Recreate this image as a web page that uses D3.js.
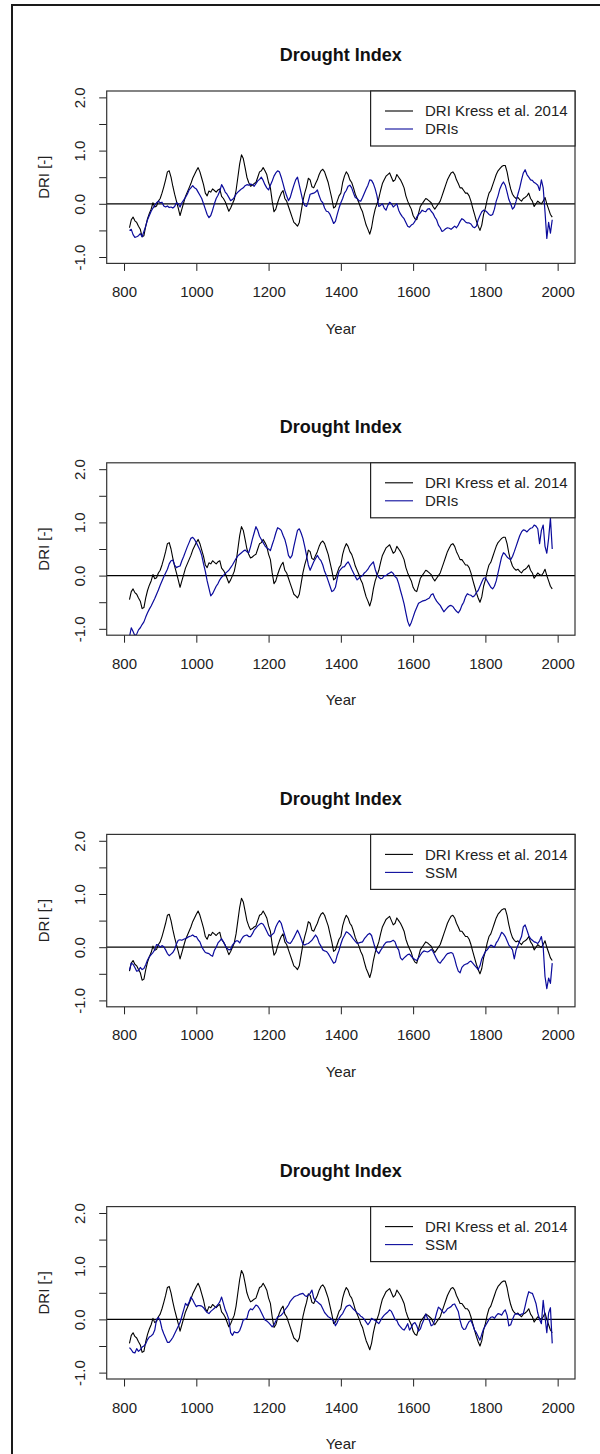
<!DOCTYPE html>
<html>
<head>
<meta charset="utf-8">
<script src="https://cdn.jsdelivr.net/npm/d3@7"></script>
<style>
  html, body { margin: 0; padding: 0; background: #fff; }
  svg { display: block; font-family: "Liberation Sans", Arial, sans-serif; }
</style>
</head>
<body>
<svg id="chart" width="600" height="1454"></svg>
<script>
// ---- data -------------------------------------------------------------
// Annual series sampled every 5 years, 815 .. 1985
const firstYear = 815;
const yearStep = 5;

// DRI reconstruction of Kress et al. 2014 (same reference curve in every panel)
const kressDRI = [
  -0.45,-0.3,-0.25,-0.32,-0.35,-0.42,-0.48,-0.62,-0.6,-0.42, -0.28,-0.18,-0.1,0.02,-0.06,-0.04,0.05,0.1,0.2,0.32,
  0.45,0.6,0.62,0.5,0.33,0.18,0.05,-0.08,-0.22,-0.1, 0.02,0.14,0.22,0.3,0.38,0.48,0.55,0.62,0.68,0.6,
  0.48,0.36,0.2,0.15,0.24,0.22,0.28,0.25,0.22,0.26, 0.28,0.14,0.1,0.04,-0.05,-0.14,-0.08,0.0,0.08,0.25,
  0.5,0.75,0.92,0.85,0.68,0.5,0.4,0.33,0.35,0.38, 0.4,0.5,0.6,0.62,0.68,0.62,0.55,0.4,0.3,0.05,
  -0.15,-0.1,0.02,0.12,0.2,0.25,0.1,0.05,-0.05,-0.15, -0.25,-0.35,-0.38,-0.42,-0.35,-0.15,0.05,0.2,0.32,0.48,
  0.45,0.32,0.3,0.38,0.45,0.55,0.62,0.65,0.6,0.5, 0.4,0.25,0.1,-0.08,-0.05,0.05,0.15,0.2,0.4,0.52,
  0.6,0.55,0.45,0.4,0.3,0.18,0.1,0.02,-0.08,-0.15, -0.28,-0.4,-0.48,-0.57,-0.45,-0.25,-0.1,0.0,0.1,0.25,
  0.38,0.45,0.52,0.55,0.58,0.5,0.42,0.45,0.55,0.5, 0.45,0.38,0.3,0.15,0.05,-0.03,-0.1,-0.22,-0.28,-0.3,
  -0.18,-0.05,0.0,0.05,0.1,0.08,0.05,0.02,-0.05,-0.1, -0.05,0.0,0.05,0.15,0.25,0.35,0.45,0.52,0.58,0.6,
  0.55,0.45,0.38,0.3,0.3,0.25,0.2,0.2,0.15,0.05, -0.08,-0.2,-0.32,-0.42,-0.5,-0.4,-0.2,-0.08,0.08,0.2,
  0.25,0.35,0.45,0.55,0.62,0.66,0.7,0.72,0.72,0.6, 0.42,0.28,0.18,0.13,0.1,0.12,0.08,0.05,0.1,0.12,
  0.15,0.2,0.1,0.05,-0.05,0.0,0.05,0.02,0.0,0.05, 0.12,0.0,-0.1,-0.2,-0.25
];

// DRIs, first variant
const drisA = [
  -0.5,-0.48,-0.58,-0.63,-0.62,-0.6,-0.56,-0.62,-0.52,-0.42, -0.3,-0.22,-0.14,-0.08,-0.03,0.02,0.05,0.02,0.03,-0.04,
  -0.06,-0.04,-0.07,-0.06,-0.08,-0.05,0.02,0.0,-0.06,0.02, 0.07,0.12,0.18,0.26,0.3,0.34,0.3,0.28,0.22,0.16,
  0.1,0.0,-0.1,-0.2,-0.26,-0.22,-0.12,0.0,0.1,0.16, 0.24,0.36,0.3,0.22,0.18,0.12,0.06,0.08,0.12,0.18,
  0.22,0.25,0.28,0.3,0.34,0.36,0.35,0.37,0.36,0.33, 0.38,0.43,0.46,0.5,0.44,0.36,0.3,0.26,0.35,0.43,
  0.52,0.58,0.62,0.6,0.5,0.38,0.25,0.15,0.06,0.12, 0.24,0.35,0.45,0.5,0.35,0.2,0.05,-0.03,-0.05,0.05,
  0.18,0.19,0.2,0.22,0.26,0.15,0.06,0.02,-0.08,-0.14, -0.15,-0.2,-0.28,-0.37,-0.33,-0.2,-0.08,0.02,0.1,0.2,
  0.25,0.33,0.35,0.3,0.2,0.12,0.1,0.06,0.05,0.12, 0.2,0.28,0.35,0.45,0.44,0.38,0.28,0.15,-0.05,-0.03,
  0.0,-0.08,-0.12,-0.03,0.03,0.0,-0.06,-0.03,0.0,-0.12, -0.19,-0.24,-0.28,-0.35,-0.42,-0.44,-0.4,-0.38,-0.33,-0.25,
  -0.2,-0.17,-0.12,-0.14,-0.15,-0.1,-0.09,-0.14,-0.18,-0.25, -0.3,-0.4,-0.45,-0.52,-0.5,-0.47,-0.45,-0.46,-0.48,-0.45,
  -0.42,-0.45,-0.4,-0.33,-0.28,-0.3,-0.34,-0.36,-0.36,-0.38, -0.43,-0.45,-0.42,-0.3,-0.22,-0.15,-0.12,-0.13,-0.16,-0.2,
  -0.22,-0.2,-0.1,0.05,0.15,0.28,0.36,0.41,0.35,0.22, 0.08,0.0,-0.1,-0.06,0.05,0.18,0.3,0.45,0.58,0.64,
  0.55,0.5,0.45,0.44,0.4,0.38,0.35,0.25,0.45,0.3, -0.15,-0.65,-0.35,-0.55,-0.3
];

// DRIs, second variant
const drisB = [
  -1.15,-0.98,-1.05,-1.13,-1.1,-1.02,-0.98,-0.92,-0.87,-0.78, -0.7,-0.63,-0.57,-0.5,-0.43,-0.35,-0.27,-0.18,-0.1,-0.02,
  0.05,0.12,0.22,0.28,0.29,0.2,0.15,0.17,0.18,0.28, 0.36,0.45,0.54,0.62,0.7,0.72,0.68,0.62,0.55,0.48,
  0.38,0.22,0.08,-0.1,-0.24,-0.38,-0.34,-0.27,-0.2,-0.15, -0.08,-0.03,0.0,0.04,0.07,0.1,0.15,0.2,0.26,0.32,
  0.37,0.4,0.43,0.46,0.48,0.45,0.43,0.54,0.68,0.8, 0.92,0.85,0.74,0.68,0.62,0.56,0.52,0.5,0.47,0.58,
  0.68,0.8,0.9,0.88,0.85,0.76,0.68,0.55,0.38,0.33, 0.38,0.55,0.7,0.85,0.88,0.8,0.7,0.55,0.38,0.2,
  0.1,0.18,0.26,0.32,0.38,0.32,0.28,0.2,0.08,0.0, -0.1,-0.2,-0.3,-0.28,-0.22,-0.05,0.08,0.12,0.16,0.17,
  0.22,0.26,0.2,0.12,0.05,-0.02,-0.08,-0.05,-0.02,0.0, 0.05,0.08,0.12,0.18,0.22,0.26,0.12,0.02,-0.03,-0.06,
  -0.05,0.0,0.0,0.03,0.05,0.07,0.04,-0.02,-0.05,-0.15, -0.28,-0.4,-0.53,-0.7,-0.86,-0.95,-0.88,-0.78,-0.68,-0.6,
  -0.52,-0.5,-0.48,-0.47,-0.46,-0.44,-0.42,-0.36,-0.34,-0.42, -0.48,-0.52,-0.56,-0.62,-0.68,-0.64,-0.6,-0.57,-0.56,-0.58,
  -0.63,-0.67,-0.7,-0.65,-0.56,-0.5,-0.4,-0.34,-0.36,-0.37, -0.4,-0.38,-0.32,-0.28,-0.2,-0.12,-0.05,-0.04,-0.1,-0.16,
  -0.22,-0.25,-0.2,-0.1,0.05,0.2,0.35,0.43,0.4,0.35, 0.32,0.3,0.36,0.45,0.55,0.65,0.75,0.82,0.86,0.85,
  0.82,0.86,0.89,0.9,0.95,0.93,0.88,0.6,0.85,0.95, 0.55,0.42,0.7,1.08,0.5
];

// SSM, first variant
const ssmA = [
  -0.43,-0.3,-0.32,-0.38,-0.45,-0.44,-0.38,-0.42,-0.4,-0.33, -0.24,-0.18,-0.14,-0.1,-0.05,0.05,0.04,0.0,0.03,0.01,
  -0.05,-0.12,-0.16,-0.13,-0.1,-0.04,0.06,0.13,0.14,0.13, 0.15,0.16,0.18,0.2,0.21,0.23,0.2,0.2,0.14,0.1,
  0.01,-0.05,-0.1,-0.11,-0.12,-0.15,-0.17,-0.06,0.0,0.08, 0.12,0.16,0.1,0.03,-0.02,-0.05,-0.04,0.04,0.08,0.12,
  0.12,0.08,0.15,0.2,0.22,0.23,0.2,0.2,0.25,0.32, 0.36,0.4,0.43,0.45,0.43,0.37,0.3,0.23,0.2,0.24,
  0.27,0.38,0.45,0.5,0.45,0.33,0.22,0.11,0.08,0.07, 0.12,0.18,0.25,0.32,0.25,0.16,0.06,0.04,0.06,0.07,
  0.1,0.13,0.18,0.23,0.18,0.08,0.02,-0.05,-0.07,-0.08, -0.12,-0.18,-0.24,-0.3,-0.28,-0.15,-0.06,0.06,0.16,0.22,
  0.29,0.27,0.24,0.2,0.15,0.11,0.07,0.08,0.09,0.1, 0.16,0.2,0.24,0.26,0.22,0.1,-0.02,-0.08,-0.12,-0.06,
  -0.01,0.05,0.09,0.1,0.1,0.11,0.13,0.1,0.0,-0.05, -0.2,-0.24,-0.2,-0.17,-0.14,-0.13,-0.17,-0.21,-0.23,-0.25,
  -0.2,-0.15,-0.1,-0.07,-0.08,-0.09,-0.07,-0.04,-0.08,-0.15, -0.22,-0.28,-0.3,-0.25,-0.21,-0.16,-0.12,-0.11,-0.1,-0.12,
  -0.22,-0.35,-0.45,-0.48,-0.38,-0.34,-0.32,-0.31,-0.28,-0.26, -0.3,-0.34,-0.38,-0.42,-0.35,-0.22,-0.15,-0.08,-0.05,0.0,
  0.04,0.02,0.0,0.08,0.13,0.2,0.28,0.25,0.2,0.12, 0.04,0.0,-0.05,-0.22,-0.05,0.03,0.12,0.2,0.38,0.42,
  0.32,0.22,0.16,0.13,0.1,0.09,0.07,0.12,0.2,0.0, -0.55,-0.78,-0.58,-0.68,-0.3
];

// SSM, second variant
const ssmB = [
  -0.53,-0.57,-0.62,-0.63,-0.55,-0.6,-0.57,-0.52,-0.5,-0.46, -0.38,-0.33,-0.31,-0.28,-0.2,0.0,0.04,-0.03,-0.18,-0.27,
  -0.35,-0.43,-0.43,-0.39,-0.34,-0.27,-0.2,-0.13,-0.06,0.06, 0.18,0.3,0.26,0.32,0.42,0.37,0.3,0.24,0.26,0.26,
  0.25,0.22,0.17,0.13,0.11,0.15,0.18,0.21,0.24,0.28, 0.33,0.42,0.3,0.18,0.1,0.0,-0.25,-0.3,-0.23,-0.25,
  -0.25,-0.21,-0.12,-0.01,0.0,0.02,0.15,0.2,0.18,0.22, 0.27,0.25,0.2,0.13,0.06,-0.01,-0.03,-0.06,-0.1,-0.14,
  -0.1,-0.03,0.05,0.06,0.08,0.12,0.18,0.22,0.27,0.34, 0.38,0.42,0.44,0.45,0.47,0.48,0.49,0.45,0.43,0.46,
  0.49,0.55,0.4,0.35,0.33,0.3,0.27,0.2,0.13,0.09, 0.05,0.03,0.0,-0.02,-0.12,-0.06,0.02,0.07,0.11,0.18,
  0.24,0.26,0.27,0.23,0.19,0.16,0.12,0.1,0.06,0.04, 0.0,-0.05,-0.1,-0.05,0.02,0.0,-0.02,-0.05,-0.08,-0.02,
  0.04,0.08,0.11,0.14,0.18,0.15,0.08,0.0,-0.02,-0.1, -0.14,-0.18,-0.2,-0.15,-0.08,-0.2,-0.15,-0.08,-0.06,-0.12,
  -0.22,-0.18,-0.08,0.0,0.1,0.02,-0.02,-0.12,-0.1,-0.01, 0.12,0.23,0.2,0.16,0.12,0.15,0.2,0.22,0.24,0.28,
  0.29,0.22,0.15,-0.02,-0.14,-0.19,-0.18,-0.1,-0.04,-0.02, -0.1,-0.2,-0.25,-0.32,-0.39,-0.28,-0.18,-0.12,-0.06,0.0,
  0.04,0.05,0.02,0.07,0.11,0.1,0.08,0.14,0.18,0.08, -0.12,-0.1,0.0,0.08,0.11,0.1,0.08,0.1,0.11,0.25,
  0.4,0.52,0.5,0.49,0.4,0.3,0.12,0.0,-0.08,0.36, 0.05,-0.25,0.12,0.22,-0.45
];

const panelSeries = [drisA, drisB, ssmA, ssmB];
const panelLabels = ["DRIs", "DRIs", "SSM", "SSM"];
const refLabel = "DRI Kress et al. 2014";
const chartTitle = "Drought Index";
const xTicks = [800, 1000, 1200, 1400, 1600, 1800, 2000];
const yTicks = [-1, -0.5, 0, 0.5, 1, 1.5, 2];
const yTickLabels = {"-1": "-1.0", "0": "0.0", "1": "1.0", "2": "2.0"};
const xTitle = "Year";
const yTitle = "DRI [-]";

// ---- layout -----------------------------------------------------------
const plotLeft = 106.7, plotRight = 575, plotH = 172.4;
const panelTops = [91, 462.8, 834.4, 1206.6];
const INK = "#222";
const BLUE = "#0b0b9c";
const FONT = 15;

const svg = d3.select("#chart");
svg.append("rect").attr("width", 600).attr("height", 1454).attr("fill", "#fff");

// page frame (left and top edges)
svg.append("path")
  .attr("d", "M12,1454 L12,5 L600,5")
  .attr("fill", "none").attr("stroke", "#1a1a1a").attr("stroke-width", 2);

const x = d3.scaleLinear().domain([752, 2048]).range([plotLeft, plotRight]);
const yearOf = i => firstYear + i * yearStep;

panelTops.forEach((top, p) => {
  const bottom = top + plotH;
  const y = d3.scaleLinear().domain([-1.12, 2.12]).range([bottom, top]);
  const g = svg.append("g");

  const clipId = "clip" + p;
  g.append("clipPath").attr("id", clipId)
    .append("rect")
    .attr("x", plotLeft).attr("y", top)
    .attr("width", plotRight - plotLeft).attr("height", plotH);

  // zero reference line
  g.append("line")
    .attr("x1", plotLeft).attr("x2", plotRight)
    .attr("y1", y(0)).attr("y2", y(0))
    .attr("stroke", "#000").attr("stroke-width", 1.2);

  const line = d3.line().x((d, i) => x(yearOf(i))).y(d => y(d));

  const lines = g.append("g").attr("clip-path", `url(#${clipId})`);
  lines.append("path").datum(kressDRI)
    .attr("d", line).attr("fill", "none")
    .attr("stroke", "#000").attr("stroke-width", 1.1).attr("stroke-linejoin", "round");
  lines.append("path").datum(panelSeries[p])
    .attr("d", line).attr("fill", "none")
    .attr("stroke", BLUE).attr("stroke-width", 1.2).attr("stroke-linejoin", "round");

  // x axis
  const xa = g.append("g").attr("transform", `translate(0,${bottom})`)
    .call(d3.axisBottom(x).tickValues(xTicks).tickSize(7.5).tickFormat(d3.format("d")));
  xa.select(".domain").remove();
  xa.selectAll("line").attr("stroke", INK).attr("stroke-width", 1);
  xa.selectAll("text")
    .attr("y", 28.4).attr("dy", "0.35em")
    .attr("fill", INK).attr("font-size", FONT).attr("font-family", null);

  // y axis
  const ya = g.append("g").attr("transform", `translate(${plotLeft},0)`)
    .call(d3.axisLeft(y).tickValues(yTicks).tickSize(7.5)
      .tickFormat(d => yTickLabels[String(d)] || ""));
  ya.select(".domain").remove();
  ya.selectAll("line").attr("stroke", INK).attr("stroke-width", 1);
  ya.selectAll("text")
    .attr("x", null).attr("dy", null)
    .attr("text-anchor", "middle")
    .attr("transform", "translate(-27,0) rotate(-90)")
    .attr("dy", "0.35em")
    .attr("fill", INK).attr("font-size", FONT).attr("font-family", null);

  // plot box
  g.append("rect")
    .attr("x", plotLeft).attr("y", top)
    .attr("width", plotRight - plotLeft).attr("height", plotH)
    .attr("fill", "none").attr("stroke", "#333").attr("stroke-width", 1.2);

  // legend
  const lg = g.append("g");
  lg.append("rect")
    .attr("x", 370.6).attr("y", top)
    .attr("width", plotRight - 370.6).attr("height", 55)
    .attr("fill", "#fff").attr("stroke", "#222").attr("stroke-width", 1.2);
  const items = [{label: refLabel, color: "#000"}, {label: panelLabels[p], color: BLUE}];
  items.forEach((it, k) => {
    const ly = top + 20 + k * 18;
    lg.append("line")
      .attr("x1", 385).attr("x2", 413).attr("y1", ly).attr("y2", ly)
      .attr("stroke", it.color).attr("stroke-width", 1.1);
    lg.append("text")
      .attr("x", 425).attr("y", ly).attr("dy", "0.35em")
      .attr("font-size", FONT).attr("fill", INK)
      .text(it.label);
  });

  // titles
  const cx = (plotLeft + plotRight) / 2;
  g.append("text")
    .attr("x", cx).attr("y", top - 36).attr("dy", "0.35em")
    .attr("text-anchor", "middle")
    .attr("font-size", 18).attr("font-weight", "bold").attr("fill", "#111")
    .text(chartTitle);
  g.append("text")
    .attr("x", cx).attr("y", bottom + 65).attr("dy", "0.35em")
    .attr("text-anchor", "middle")
    .attr("font-size", FONT).attr("fill", INK)
    .text(xTitle);
  g.append("text")
    .attr("transform", `translate(44,${(top + bottom) / 2}) rotate(-90)`)
    .attr("dy", "0.35em")
    .attr("text-anchor", "middle")
    .attr("font-size", FONT).attr("fill", INK)
    .text(yTitle);
});
</script>
</body>
</html>
